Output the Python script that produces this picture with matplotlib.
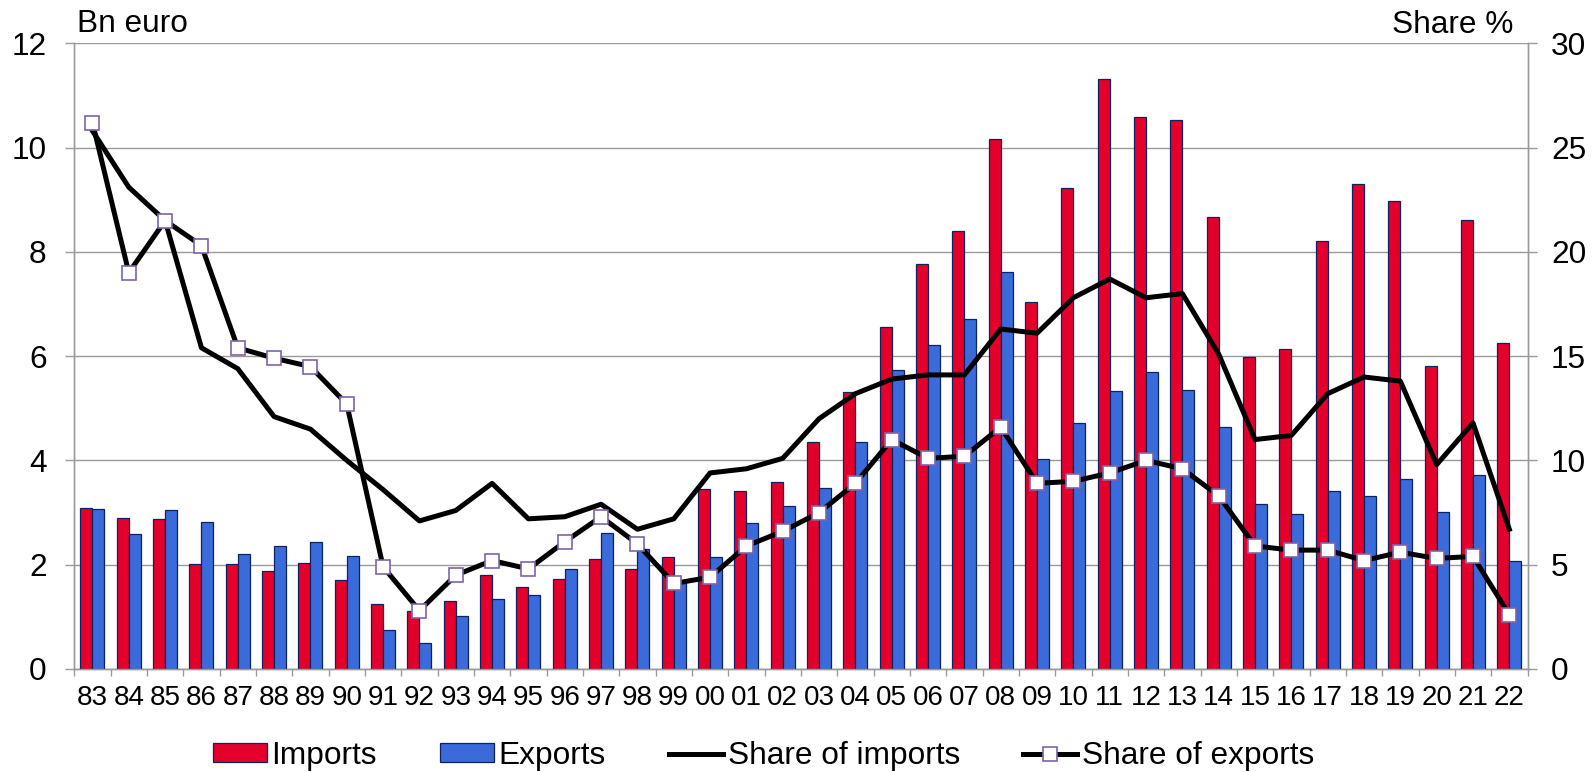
import matplotlib
matplotlib.use("Agg")
import matplotlib.pyplot as plt
from matplotlib.ticker import MultipleLocator, FixedLocator
import numpy as np

plt.rcParams['font.family'] = ['Liberation Sans', 'DejaVu Sans']

years = ["83", "84", "85", "86", "87", "88", "89", "90", "91", "92",
         "93", "94", "95", "96", "97", "98", "99", "00", "01", "02",
         "03", "04", "05", "06", "07", "08", "09", "10", "11", "12",
         "13", "14", "15", "16", "17", "18", "19", "20", "21", "22"]

# Trade values, billion euro
imports = [3.09, 2.90, 2.88, 2.01, 2.01, 1.87, 2.04, 1.71, 1.25, 1.12,
           1.31, 1.80, 1.57, 1.72, 2.11, 1.91, 2.14, 3.46, 3.42, 3.59,
           4.36, 5.32, 6.55, 7.77, 8.40, 10.17, 7.04, 9.22, 11.32, 10.59,
           10.52, 8.67, 5.98, 6.14, 8.20, 9.30, 8.97, 5.81, 8.62, 6.25]
exports = [3.07, 2.59, 3.04, 2.82, 2.21, 2.35, 2.44, 2.17, 0.75, 0.50,
           1.02, 1.35, 1.42, 1.91, 2.61, 2.31, 1.65, 2.15, 2.80, 3.12,
           3.47, 4.35, 5.74, 6.21, 6.71, 7.62, 4.02, 4.72, 5.34, 5.70,
           5.36, 4.64, 3.16, 2.98, 3.41, 3.32, 3.64, 3.01, 3.73, 2.08]

# Shares, percent
share_imports = [25.8, 23.1, 21.5, 15.4, 14.4, 12.1, 11.5, 10.0, 8.6, 7.1,
                 7.6, 8.9, 7.2, 7.3, 7.9, 6.7, 7.2, 9.4, 9.6, 10.1,
                 12.0, 13.2, 13.9, 14.1, 14.1, 16.3, 16.1, 17.8, 18.7, 17.8,
                 18.0, 15.1, 11.0, 11.2, 13.2, 14.0, 13.8, 9.8, 11.8, 6.7]
share_exports = [26.2, 19.0, 21.5, 20.3, 15.4, 14.9, 14.5, 12.7, 4.9, 2.8,
                 4.5, 5.2, 4.8, 6.1, 7.3, 6.0, 4.1, 4.4, 5.9, 6.6,
                 7.5, 8.9, 11.0, 10.1, 10.2, 11.6, 8.9, 9.0, 9.4, 10.0,
                 9.6, 8.3, 5.9, 5.7, 5.7, 5.2, 5.6, 5.3, 5.4, 2.6]

RED = "#E4002B"
BLUE = "#3B6BDA"
EDGE = "#0B2460"
GRID = "#9A9A9A"
FS = 22.8

fig = plt.figure(figsize=(15.95, 7.72), dpi=100)
ax = fig.add_axes([74.3 / 1595, 1 - 669 / 772, (1527.5 - 74.3) / 1595, (669 - 43.3) / 772])
ax2 = ax.twinx()

x = np.arange(len(years))
w = 0.33
ax.bar(x - w / 2, imports, width=w, color=RED, edgecolor=EDGE, linewidth=0.9,
       label="Imports", zorder=3)
ax.bar(x + w / 2, exports, width=w, color=BLUE, edgecolor=EDGE, linewidth=0.9,
       label="Exports", zorder=3)

ax.set_xlim(-0.5, len(years) - 0.5)
ax.set_ylim(0, 12)
ax2.set_ylim(0, 30)
ax.yaxis.set_major_locator(MultipleLocator(2))
ax2.yaxis.set_major_locator(MultipleLocator(5))

ax.grid(axis="y", color=GRID, linewidth=1.0, zorder=0)
ax.set_axisbelow(True)

ax2.plot(x, share_imports, color="black", linewidth=3.6, label="Share of imports",
         zorder=4, solid_joinstyle="round")
ax2.plot(x, share_exports, color="black", linewidth=3.6, marker="s", markersize=10,
         markerfacecolor="white", markeredgecolor="#7F63A8", markeredgewidth=1.2,
         label="Share of exports", zorder=5, solid_joinstyle="round")

# x axis: labels centred on categories, tick marks on boundaries
ax.set_xticks(x)
ax.set_xticklabels(years)
ax.xaxis.set_minor_locator(FixedLocator(np.arange(-0.5, len(years), 1.0)))
ax.tick_params(axis="x", which="major", length=0, pad=11.5, labelsize=20)
ax.tick_params(axis="x", which="minor", length=5, width=1, color=GRID, direction="out")
ax.tick_params(axis="y", length=6.5, width=1, color=GRID, labelsize=FS, pad=13.5)
ax2.tick_params(axis="y", length=6.5, width=1, color=GRID, labelsize=FS, pad=10.5)

for a in (ax, ax2):
    a.spines["top"].set_visible(False)
    for s in ("left", "right", "bottom"):
        a.spines[s].set_color(GRID)
        a.spines[s].set_linewidth(1.0)

fig.text(77 / 1595, 1 - 32 / 772, "Bn euro", fontsize=FS, ha="left", va="baseline")
fig.text(1513 / 1595, 1 - 33 / 772, "Share %", fontsize=FS, ha="right", va="baseline")

h1, l1 = ax.get_legend_handles_labels()
h2, l2 = ax2.get_legend_handles_labels()
fig.legend(h1 + h2, l1 + l2, loc="center", bbox_to_anchor=(763.5 / 1595, 1 - 756 / 772),
           ncol=4, frameon=False, fontsize=FS, handlelength=1.7, handleheight=0.55,
           handletextpad=0.15, columnspacing=2.0, borderaxespad=0, borderpad=0)

fig.savefig("out.png", dpi=100)
